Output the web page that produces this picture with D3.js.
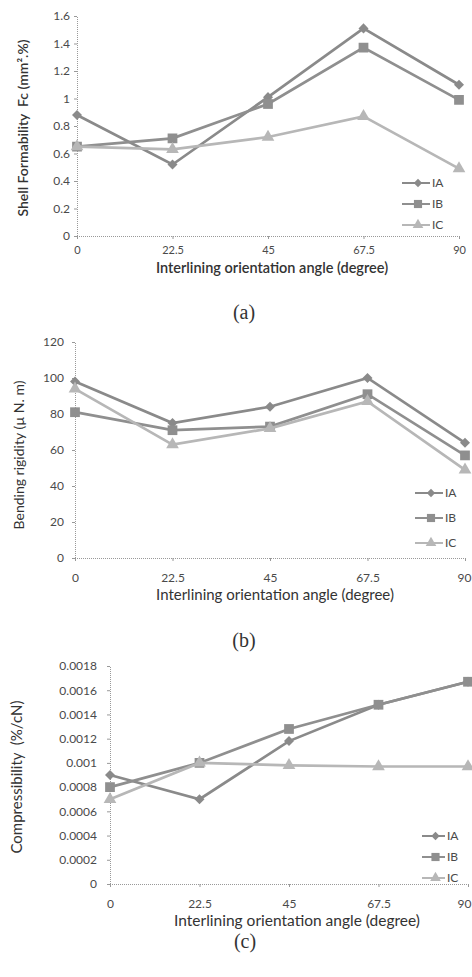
<!DOCTYPE html>
<html>
<head>
<meta charset="utf-8">
<script src="https://cdn.jsdelivr.net/npm/d3@7.9.0/dist/d3.min.js"></script>
<style>
  body { margin: 0; background: #fff; }
  svg { display: block; font-family: Lato, "Open Sans", sans-serif; }
  .tick-label { font-size: 12px; fill: #4a4a4a; }
  .caption { font-family: "Liberation Serif", "DejaVu Serif", serif; font-size: 20px; fill: #333; }
</style>
</head>
<body>
<svg id="chart" width="472" height="977"></svg>
<script>
// angles on the x axis
const angles = [0, 22.5, 45, 67.5, 90];
const angleLabels = ['0', '22.5', '45', '67.5', '90'];
const seriesNames = ['IA', 'IB', 'IC'];

// (a) shell formability
const formIA = [0.88, 0.52, 1.01, 1.51, 1.10];
const formIB = [0.65, 0.71, 0.96, 1.37, 0.99];
const formIC = [0.65, 0.63, 0.72, 0.87, 0.49];
const formTicks = [0, 0.2, 0.4, 0.6, 0.8, 1, 1.2, 1.4, 1.6];

// (b) bending rigidity
const bendIA = [98, 75, 84, 100, 64];
const bendIB = [81, 71, 73, 91, 57];
const bendIC = [94, 63, 72, 87, 49];
const bendTicks = [0, 20, 40, 60, 80, 100, 120];

// (c) compressibility
const compIA = [0.0009, 0.0007, 0.00118, 0.00148, 0.00167];
const compIB = [0.0008, 0.001, 0.00128, 0.00148, 0.00167];
const compIC = [0.0007, 0.001, 0.00098, 0.00097, 0.00097];
const compTicks = [0, 0.0002, 0.0004, 0.0006, 0.0008, 0.001, 0.0012, 0.0014, 0.0016, 0.0018];

const colors = ['#8a8a8a', '#8f8f8f', '#b7b7b7'];
const symbols = [d3.symbolDiamond2, d3.symbolSquare, d3.symbolTriangle];
const symbolSizes = [64, 95, 70];

const svg = d3.select('#chart');

function drawPanel(p) {
  const x = d3.scaleLinear().domain([0, 90]).range([p.left, p.right]);
  const y = d3.scaleLinear().domain([0, p.yMax]).range([p.bottom, p.top]);
  const g = svg.append('g');

  // y axis, dotted
  const yAxis = d3.axisLeft(y).tickValues(p.yTicks).tickSize(3).tickFormat((d) => p.fmt(d));
  const ya = g.append('g').attr('transform', `translate(${p.left},0)`).call(yAxis);
  ya.select('.domain').attr('stroke', '#999').attr('stroke-dasharray', '1,1');
  ya.selectAll('.tick line').attr('stroke', '#999');
  ya.selectAll('.tick text')
    .attr('class', 'tick-label')
    .attr('x', p.yLabelX - p.left)
    .attr('font-family', 'Lato, sans-serif');

  // x axis, dotted
  const xAxis = d3.axisBottom(x).tickValues(angles).tickSize(3)
    .tickFormat((d, i) => angleLabels[i]);
  const xa = g.append('g').attr('transform', `translate(0,${p.bottom})`).call(xAxis);
  xa.select('.domain').attr('stroke', '#999').attr('stroke-dasharray', '1,1');
  xa.selectAll('.tick line').attr('stroke', '#999');
  xa.selectAll('.tick text')
    .attr('class', 'tick-label')
    .attr('y', p.xLabelDy)
    .style('font-size', p.xTickSize + 'px')
    .attr('font-family', 'Lato, sans-serif');
  // keep the last label inside the page
  xa.selectAll('.tick text').filter((d) => d === 90).attr('dx', p.lastDx);

  // series
  const line = d3.line().x((d, i) => x(angles[i])).y((d) => y(d));
  p.series.forEach((vals, s) => {
    g.append('path')
      .attr('d', line(vals))
      .attr('fill', 'none')
      .attr('stroke', colors[s])
      .attr('stroke-width', 2.7);
    g.selectAll(null).data(vals).enter().append('path')
      .attr('d', d3.symbol().type(symbols[s]).size(symbolSizes[s]))
      .attr('transform', (d, i) => `translate(${x(angles[i])},${y(d)})`)
      .attr('fill', colors[s]);
  });

  // legend
  seriesNames.forEach((name, s) => {
    const ly = p.legendY[s];
    g.append('line')
      .attr('x1', p.legendX[0]).attr('x2', p.legendX[1])
      .attr('y1', ly).attr('y2', ly)
      .attr('stroke', colors[s]).attr('stroke-width', 2);
    g.append('path')
      .attr('d', d3.symbol().type(symbols[s]).size(symbolSizes[s] * 0.7))
      .attr('transform', `translate(${(p.legendX[0] + p.legendX[1]) / 2 + 2},${ly})`)
      .attr('fill', colors[s]);
    g.append('text')
      .attr('x', p.legendX[1] + 2).attr('y', ly + 4)
      .attr('font-size', 12).attr('fill', '#4a4a4a')
      .text(name);
  });

  // axis titles
  g.append('text')
    .attr('x', p.xTitle[0]).attr('y', p.xTitle[1])
    .attr('text-anchor', 'middle')
    .attr('font-size', p.xTitleSize).attr('font-weight', p.titleWeight).attr('fill', '#333')
    .text('Interlining orientation angle (degree)');
  g.append('text')
    .attr('transform', `translate(${p.yTitle[0]},${p.yTitle[1]}) rotate(-90)`)
    .attr('text-anchor', 'middle')
    .attr('font-size', p.yTitleSize).attr('font-weight', p.titleWeight).attr('fill', '#333')
    .attr('xml:space', 'preserve')
    .text(p.yTitleText);

  g.append('text')
    .attr('class', 'caption')
    .attr('x', p.caption[0]).attr('y', p.caption[1])
    .attr('text-anchor', 'middle')
    .text(p.captionText);
}

drawPanel({
  left: 77, right: 459, bottom: 236, top: 16, yMax: 1.6,
  yTicks: formTicks, fmt: (d) => String(d), yLabelX: 70, xLabelDy: 10, xTickSize: 11, lastDx: 0,
  series: [formIA, formIB, formIC],
  legendX: [402, 430], legendY: [183, 204, 225],
  xTitle: [272, 273], xTitleSize: 14.5, yTitle: [28, 128], yTitleSize: 14, titleWeight: 600,
  yTitleText: 'Shell Formability  Fc (mm².%)',
  caption: [244, 319], captionText: '(a)'
});

drawPanel({
  left: 75, right: 465, bottom: 558, top: 342, yMax: 120,
  yTicks: bendTicks, fmt: (d) => String(d), yLabelX: 64, xLabelDy: 15, xTickSize: 12, lastDx: -1,
  series: [bendIA, bendIB, bendIC],
  legendX: [415, 443], legendY: [493, 518, 543],
  xTitle: [275, 600], xTitleSize: 15, yTitle: [24, 455], yTitleSize: 14, titleWeight: 400,
  yTitleText: 'Bending rigidity (µ N. m)',
  caption: [244, 647], captionText: '(b)'
});

drawPanel({
  left: 110, right: 468, bottom: 884, top: 666, yMax: 0.0018,
  yTicks: compTicks, fmt: (d) => (d === 0 ? '0' : String(+d.toFixed(4))), yLabelX: 97, xLabelDy: 15, xTickSize: 12, lastDx: -4,
  series: [compIA, compIB, compIC],
  legendX: [422, 445], legendY: [836, 857, 878],
  xTitle: [297, 926], xTitleSize: 15.5, yTitle: [22, 777], yTitleSize: 15, titleWeight: 400,
  yTitleText: 'Compressibility  (%/cN)',
  caption: [245, 948], captionText: '(c)'
});
</script>
</body>
</html>
